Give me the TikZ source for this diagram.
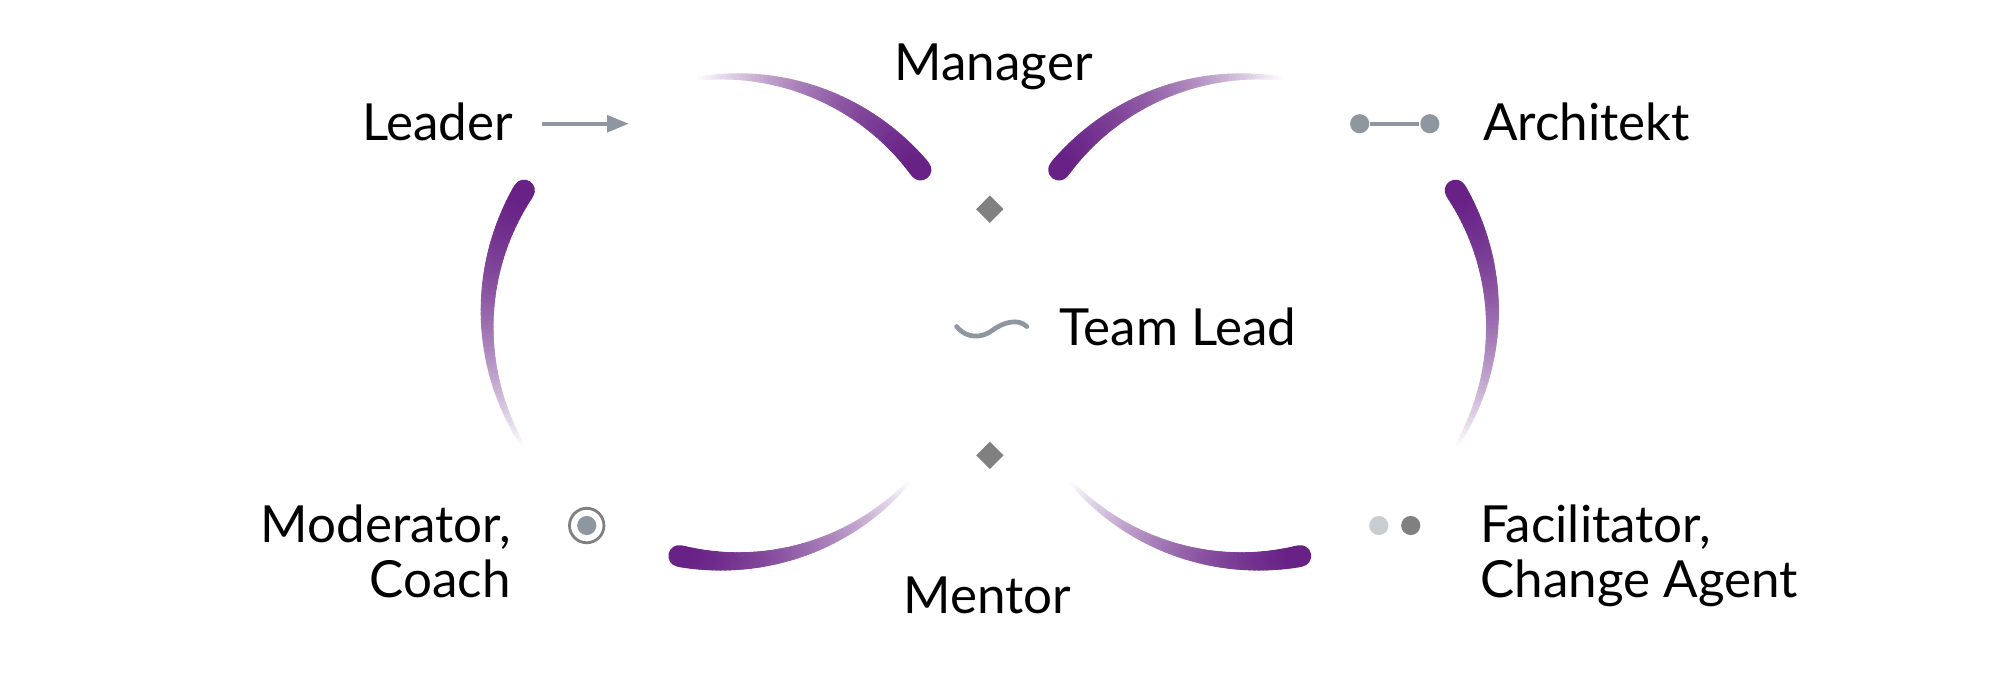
\documentclass[tikz,border=0pt]{standalone}
\usepackage{fontspec}
\setmainfont{Lato}
\usetikzlibrary{arrows.meta,shapes.geometric}
\definecolor{arcpurple}{RGB}{104,34,134}
\definecolor{icongray}{RGB}{142,151,160}
\definecolor{gemgray}{RGB}{128,128,128}
\definecolor{palegray}{RGB}{201,205,209}
\tikzset{
  role/.style = {inner sep=0pt, font=\fontsize{11.4}{12.3}\selectfont},
  gem/.style = {diamond, fill=gemgray, inner sep=0pt, minimum size=0.22cm},
  dot/.style = {circle, inner sep=0pt, minimum size=0.15cm},
}

\begin{document}
\begin{tikzpicture}[x=0.01cm, y=0.01cm]
  \fill[white] (0,0) rectangle (1568,-535.5);
  \useasboundingbox (0,0) rectangle (1568,-535.5);

  % fading arcs: centre x / faded end angle / thick end angle
  \foreach \cx/\from/\to in {572/98/38, 572/212/148, 572/318/258,
      980/82/142, 980/-32/32, 980/222/282}{
    \foreach \i in {0,...,59}{
      \pgfmathsetmacro\a{\from+(\to-\from)*\i/60}
      \pgfmathsetmacro\b{\from+(\to-\from)*(\i+1)/60}
      \pgfmathsetmacro\t{\i/59}
      \pgfmathsetmacro\w{3+14*\t}
      \pgfmathsetmacro\p{100*\t*(1.6-0.6*\t)}
      \draw[line width=\w*0.01cm, line cap=round, arcpurple!\p!white]
        (\cx,-250) ++(\a:190) arc[start angle=\a, end angle=\b, radius=190];
    }
  }

  \node [role, anchor=base] (manager) at (779,-63) {Manager};
  \node [role, anchor=base east] (leader) at (403,-110) {Leader};
  \node [role, anchor=base west] (architekt) at (1162,-110) {Architekt};
  \node [role, anchor=base west] (teamlead) at (830,-271) {Team Lead};
  \node [role, anchor=base] (mentor) at (774,-481) {Mentor};
  \node [role, anchor=north east, align=right] (moderator) at (401,-395)
    {Moderator,\\Coach};
  \node [role, anchor=north west, align=left] (facilitator) at (1160,-395)
    {Facilitator,\\Change Agent};

  % icons
  \coordinate (arrowtail) at (425,-97);
  \coordinate (arrowhead) at (493,-97);
  \draw [icongray, line width=0.03cm, -{Triangle[length=0.17cm, width=0.13cm]}]
    (arrowtail) -- (arrowhead);

  \node [dot, fill=icongray] (bellleft) at (1066,-97) {};
  \node [dot, fill=icongray] (bellright) at (1121,-97) {};
  \draw [icongray, line width=0.03cm] (bellleft) -- (bellright);

  \node [gem] (gemtop) at (776,-164) {};
  \node [gem] (gembottom) at (776,-357) {};

  \coordinate (wavestart) at (750,-256);
  \coordinate (wavemid) at (778,-259);
  \coordinate (waveend) at (805,-256);
  \draw [icongray, line width=0.037cm, line cap=round]
    (wavestart) .. controls (758,-266) and (770,-265) .. (wavemid)
    .. controls (786,-253) and (798,-249) .. (waveend);

  \node [circle, draw=gemgray, line width=0.022cm, minimum size=0.27cm,
    inner sep=0pt] (ring) at (460,-412) {};
  \node [dot, fill=icongray] (ringcore) at (ring) {};

  \node [dot, fill=palegray] (dotpale) at (1081,-412) {};
  \node [dot, fill=gemgray] (dotdark) at (1106,-412) {};
\end{tikzpicture}
\end{document}
